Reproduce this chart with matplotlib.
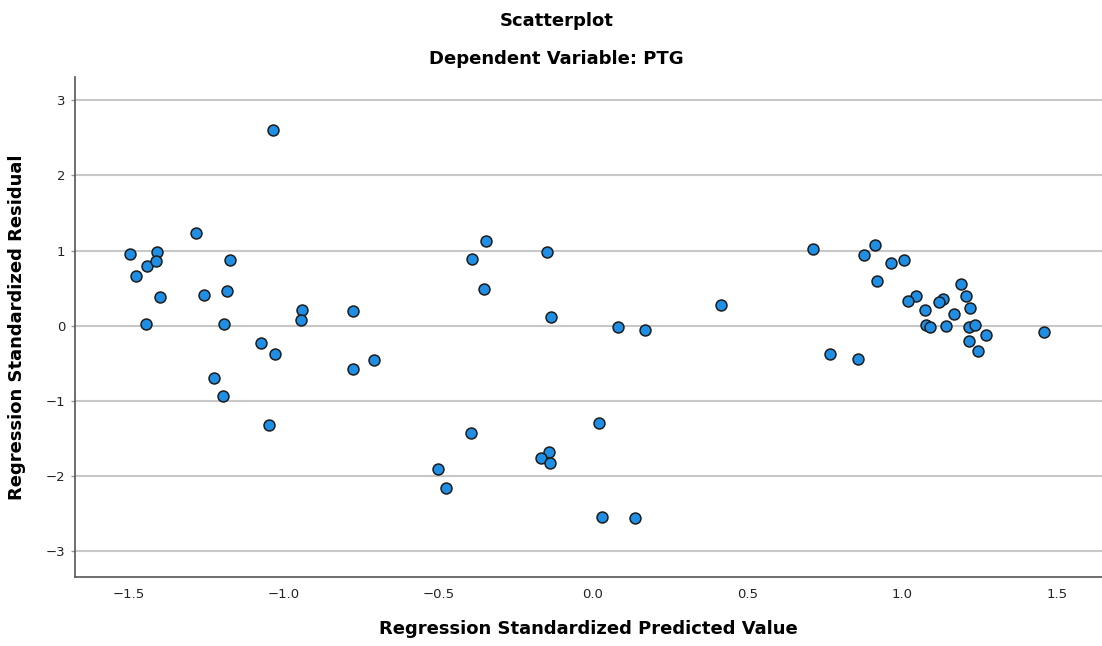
import matplotlib
matplotlib.use("Agg")
from matplotlib import pyplot as plt

# 散布図のデータ (Regression Standardized Predicted Value / Residual)
pred = [-1.497, -1.478, -1.441, -1.411, -1.414, -1.401, -1.444, -1.285, -1.259,
        -1.175, -1.184, -1.194, -1.225, -1.197, -1.072, -1.029, -1.047, -1.036,
        -0.942, -0.943, -0.776, -0.776, -0.708,
        -0.347, -0.391, -0.150, -0.352, -0.136, 0.080, 0.169, 0.018, -0.393,
        -0.141, -0.169, -0.139, -0.502, -0.475, 0.028, 0.136, 0.414,
        0.710, 0.877, 0.913, 0.965, 1.007, 0.918, 1.046, 1.018, 1.131, 1.119,
        1.189, 1.205, 1.075, 1.219, 1.169, 1.076, 1.090, 1.141, 1.217, 1.234,
        1.272, 1.217, 1.246, 1.458, 0.765, 0.858]
resid = [0.96, 0.66, 0.79, 0.98, 0.86, 0.38, 0.02, 1.24, 0.41,
         0.88, 0.46, 0.02, -0.69, -0.94, -0.23, -0.38, -1.32, 2.60,
         0.21, 0.08, 0.20, -0.58, -0.45,
         1.13, 0.89, 0.98, 0.49, 0.11, -0.01, -0.06, -1.30, -1.43,
         -1.68, -1.76, -1.82, -1.91, -2.16, -2.54, -2.56, 0.28,
         1.02, 0.94, 1.07, 0.83, 0.87, 0.60, 0.40, 0.33, 0.36, 0.32,
         0.56, 0.40, 0.21, 0.24, 0.15, 0.01, -0.01, 0.00, -0.02, 0.01,
         -0.12, -0.20, -0.33, -0.08, -0.38, -0.44]

x_ticks = [-1.5, -1.0, -0.5, 0.0, 0.5, 1.0, 1.5]
y_ticks = [-3, -2, -1, 0, 1, 2, 3]

plt.rcParams['font.family'] = ['DejaVu Sans']

fig = plt.figure(figsize=(11.02, 6.46), dpi=100)
ax = fig.add_axes([0.068, 0.107, 0.932, 0.774])

ax.scatter(pred, resid, s=62, c='#1f8fe5', edgecolors='#1c1c1c',
           linewidths=1.1, zorder=3)

ax.set_xlim(-1.675, 1.646)
ax.set_ylim(-3.34, 3.31)
ax.set_xticks(x_ticks)
ax.set_xticklabels(['\u22121.5', '\u22121.0', '\u22120.5', '0.0', '0.5', '1.0', '1.5'])
ax.set_yticks(y_ticks)
ax.set_yticklabels(['\u22123', '\u22122', '\u22121', '0', '1', '2', '3'])
ax.grid(axis='y', color='#c8c8c8', linewidth=1.5, zorder=0)
ax.tick_params(axis='x', length=0, pad=8, labelsize=9.5, colors='#222222')
ax.tick_params(axis='y', length=3, width=1, color='#999999', pad=4,
               labelsize=9.5, labelcolor='#222222')
for side in ['top', 'right']:
    ax.spines[side].set_visible(False)
for side in ['left', 'bottom']:
    ax.spines[side].set_color('#555555')
    ax.spines[side].set_linewidth(1.2)

ax.set_xlabel('Regression Standardized Predicted Value', fontsize=13,
              fontweight='bold', labelpad=14)
ax.set_ylabel('Regression Standardized Residual', fontsize=13,
              fontweight='bold', labelpad=14)

fig.text(0.505, 0.968, 'Scatterplot', ha='center', va='center',
         fontsize=13, fontweight='bold')
fig.text(0.505, 0.908, 'Dependent Variable: PTG', ha='center', va='center',
         fontsize=13, fontweight='bold')

plt.savefig('out.png', dpi=100)
